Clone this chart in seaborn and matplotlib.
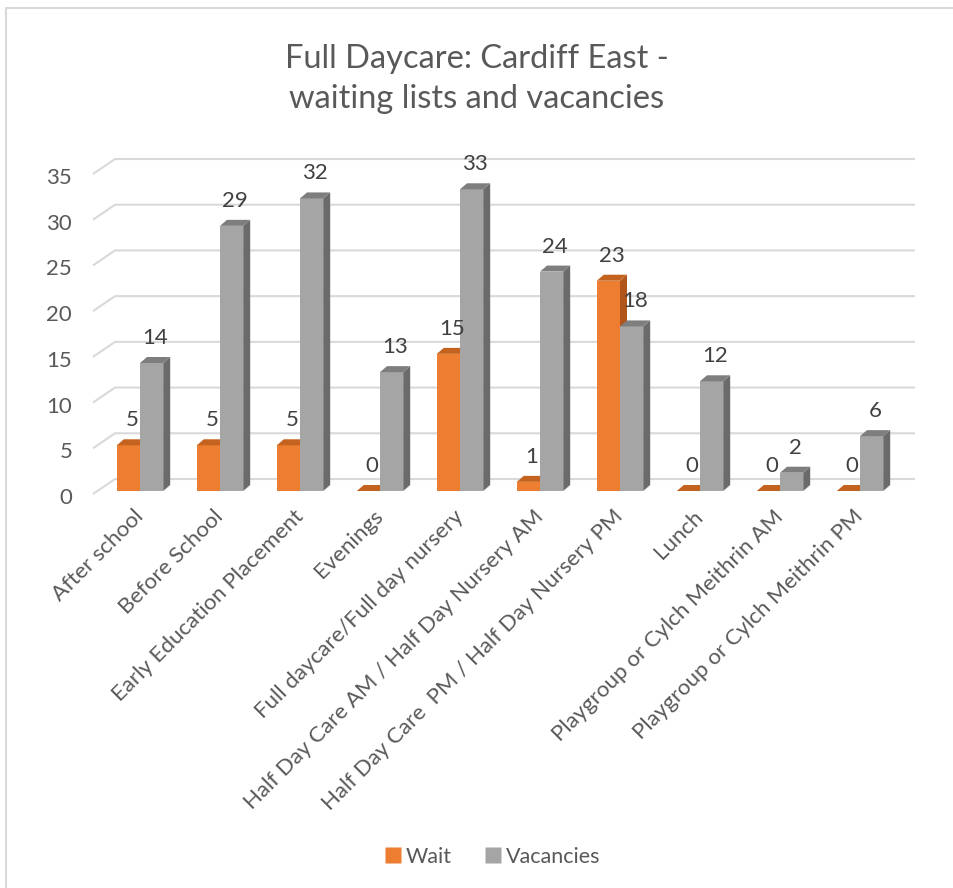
import matplotlib
matplotlib.use("Agg")
import matplotlib.pyplot as plt
import matplotlib.transforms as mtransforms
from matplotlib.patches import Polygon
from matplotlib.lines import Line2D
import numpy as np
import pandas as pd
import seaborn as sns

# data
categories = ["After school", "Before School", "Early Education Placement", "Evenings",
              "Full daycare/Full day nursery", "Half Day Care AM / Half Day Nursery AM",
              "Half Day Care  PM / Half Day Nursery PM", "Lunch",
              "Playgroup or Cylch Meithrin AM", "Playgroup or Cylch Meithrin PM"]
wait = [5, 5, 5, 0, 15, 1, 23, 0, 0, 0]
vacancies = [14, 29, 32, 13, 33, 24, 18, 12, 2, 6]
series = ["Wait", "Vacancies"]

df = pd.DataFrame({
    "category": categories * 2,
    "series": ["Wait"] * len(categories) + ["Vacancies"] * len(categories),
    "value": wait + vacancies,
})

front = {"Wait": "#ED7D31", "Vacancies": "#A5A5A5"}
top_c = {"Wait": "#C4621F", "Vacancies": "#7E7E7E"}
side_c = {"Wait": "#B0561A", "Vacancies": "#6B6B6B"}

sns.set_style("white")
plt.rcParams["font.family"] = ["Lato", "DejaVu Sans"]

W, H = 954, 888
fig = plt.figure(figsize=(W / 100, H / 100), dpi=100)
# axes placed in pixel terms: x from 100 to 900, y value 0 at 491, 35 at 171
ax = fig.add_axes([100 / W, (H - 491) / H, 800 / W, 320 / H])

sns.barplot(data=df, x="category", y="value", hue="series", hue_order=series,
            palette=front, width=0.58, saturation=1, ax=ax, legend=False,
            zorder=3)
ax.set_xlim(-0.5, 9.5)
ax.set_ylim(0, 35)
for s in ax.spines.values():
    s.set_visible(False)

to_px = ax.transData.transform
to_data = ax.transData.inverted().transform

# back grid lines with a short diagonal on the side wall
gdx, gdy = 15, 12
for v in range(0, 36, 5):
    x0, y0 = to_px((-0.5, v))
    x1, _ = to_px((9.5, v))
    pts = to_data([(x0 - 7, y0 - 3), (x0 + gdx, y0 + gdy), (x1 + gdx, y0 + gdy)])
    ax.plot(pts[:, 0], pts[:, 1], color="#D9D9D9", lw=1.5, zorder=1,
            solid_capstyle="butt", clip_on=False)

# 3D look: top and side faces for each bar
dx, dy = 7, 6
n = len(categories)
for i, p in enumerate(ax.patches[:2 * n]):
    name = series[i // n]
    base_z = 3 if name == "Wait" else 4
    p.set_zorder(base_z)
    p.set_edgecolor("none")
    x, y, w, h = p.get_x(), p.get_y(), p.get_width(), p.get_height()
    (xl, yb), (xr, yt) = to_px((x, y)), to_px((x + w, y + h))
    top = to_data([(xl, yt), (xr, yt), (xr + dx, yt + dy), (xl + dx, yt + dy)])
    side = to_data([(xr, yb), (xr, yt), (xr + dx, yt + dy), (xr + dx, yb + dy)])
    ax.add_patch(Polygon(side, closed=True, fc=side_c[name], ec="none", zorder=base_z + 0.5))
    ax.add_patch(Polygon(top, closed=True, fc=top_c[name], ec="none", zorder=base_z + 0.5))
    val = y + h
    ax.annotate(f"{int(val)}", (x + w / 2, val), xytext=(dx / 2 * 0.72, (dy + 9) * 0.72),
                textcoords="offset points", ha="center", va="bottom",
                fontsize=16, color="#404040", zorder=6)

ax.set_xlabel("")
ax.set_ylabel("")
ax.set_yticks(range(0, 36, 5))
ax.tick_params(axis="y", length=0, pad=20, labelsize=16, labelcolor="#595959")
ax.tick_params(axis="x", length=0, pad=16, labelsize=16, labelcolor="#595959")
ax.set_xticks(range(n))
ax.set_xticklabels(categories, rotation=45, ha="right", va="center", rotation_mode="anchor")

shift_y = mtransforms.ScaledTranslation(0, -5 / 100, fig.dpi_scale_trans)
for lab in ax.get_yticklabels():
    lab.set_transform(lab.get_transform() + shift_y)

fig.text(477 / W, 1 - 79 / H, "Full Daycare: Cardiff East -\nwaiting lists and vacancies",
         ha="center", va="center", fontsize=23.5, color="#595959", linespacing=1.4)

handles = [Line2D([], [], marker="s", ls="none", markersize=11,
                  markerfacecolor=front[s], markeredgecolor="none") for s in series]
fig.legend(handles, series, loc="center", bbox_to_anchor=(491 / W, 1 - 857 / H),
           ncol=2, frameon=False, fontsize=15.5, labelcolor="#595959",
           handletextpad=0.1, columnspacing=1.4, handlelength=1.0)

# chart-area border (left and top edges visible)
fig.add_artist(Line2D([6 / W, 6 / W, 1], [0, 1 - 8 / H, 1 - 8 / H],
                      transform=fig.transFigure, color="#D9D9D9", lw=1.5))

fig.savefig("out.png", dpi=100, facecolor="white")
